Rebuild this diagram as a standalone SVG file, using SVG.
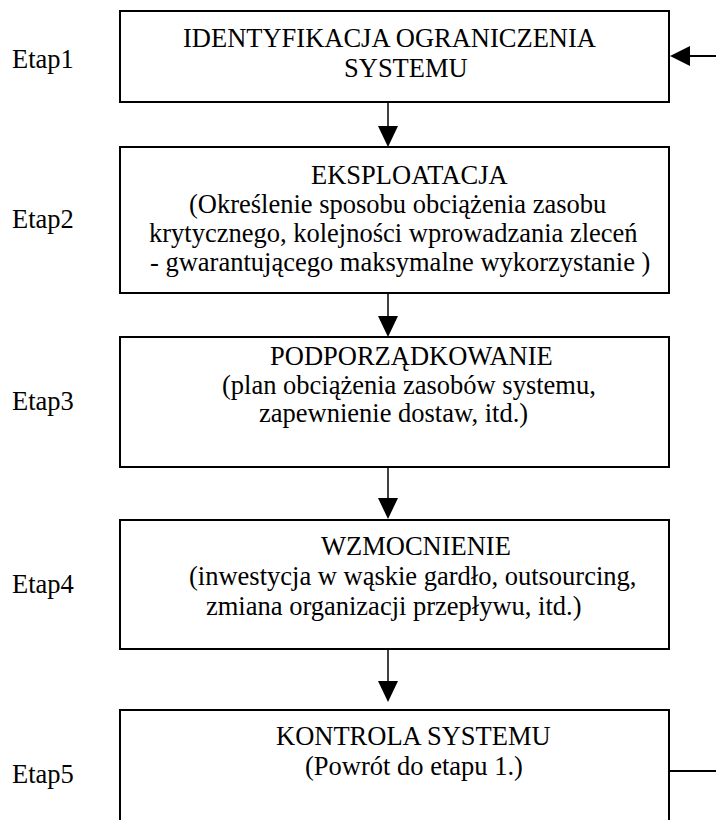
<svg xmlns="http://www.w3.org/2000/svg" width="716" height="820" viewBox="0 0 716 820">
<style>
.box{fill:#fff;stroke:#000;stroke-width:2}
text{font-family:'Liberation Serif', 'Times New Roman', serif;font-size:26.5px;fill:#000}
.ln{stroke:#000;stroke-width:1.5;fill:none}
.fb{stroke:#000;stroke-width:2;fill:none}
.ah{fill:#000}
</style>
<rect width="716" height="820" fill="#fff"/>
<g id="labels">
<text x="12" y="68">Etap1</text>
<text x="12" y="228">Etap2</text>
<text x="12" y="410">Etap3</text>
<text x="12" y="593">Etap4</text>
<text x="12" y="783">Etap5</text>
</g>
<g id="node1">
<rect class="box" x="120" y="11" width="549" height="91"/>
<text x="183" y="47">IDENTYFIKACJA OGRANICZENIA</text>
<text x="344" y="77">SYSTEMU</text>
</g>
<g id="node2">
<rect class="box" x="120" y="147" width="549" height="146"/>
<text x="311" y="184">EKSPLOATACJA</text>
<text x="189" y="213">(Określenie sposobu obciążenia zasobu</text>
<text x="149" y="242">krytycznego, kolejności wprowadzania zleceń</text>
<text x="150" y="271">- gwarantującego maksymalne wykorzystanie )</text>
</g>
<g id="node3">
<rect class="box" x="120" y="337" width="549" height="130"/>
<text x="270" y="365">PODPORZĄDKOWANIE</text>
<text x="222" y="394">(plan obciążenia zasobów systemu,</text>
<text x="259" y="422">zapewnienie dostaw, itd.)</text>
</g>
<g id="node4">
<rect class="box" x="120" y="520" width="549" height="129"/>
<text x="321" y="555">WZMOCNIENIE</text>
<text x="189" y="585">(inwestycja w wąskie gardło, outsourcing,</text>
<text x="206" y="615">zmiana organizacji przepływu, itd.)</text>
</g>
<g id="node5">
<rect class="box" x="120" y="710" width="549" height="130"/>
<text x="276" y="745">KONTROLA SYSTEMU</text>
<text x="305" y="775">(Powrót do etapu 1.)</text>
</g>
<g id="connectors">
<line class="ln" x1="388" y1="102" x2="388" y2="127"/>
<polygon class="ah" points="378,126 398,126 388,147"/>
<line class="ln" x1="388" y1="293" x2="388" y2="317"/>
<polygon class="ah" points="378,316 398,316 388,337"/>
<line class="ln" x1="388" y1="467" x2="388" y2="499"/>
<polygon class="ah" points="378,498 398,498 388,519"/>
<line class="ln" x1="388" y1="649" x2="388" y2="682"/>
<polygon class="ah" points="378,681 398,681 388,702"/>
<line class="fb" x1="716" y1="56" x2="688" y2="56"/>
<polygon class="ah" points="690,46 690,66 670,56"/>
<line class="fb" x1="669" y1="771" x2="716" y2="771"/>
</g>
</svg>
